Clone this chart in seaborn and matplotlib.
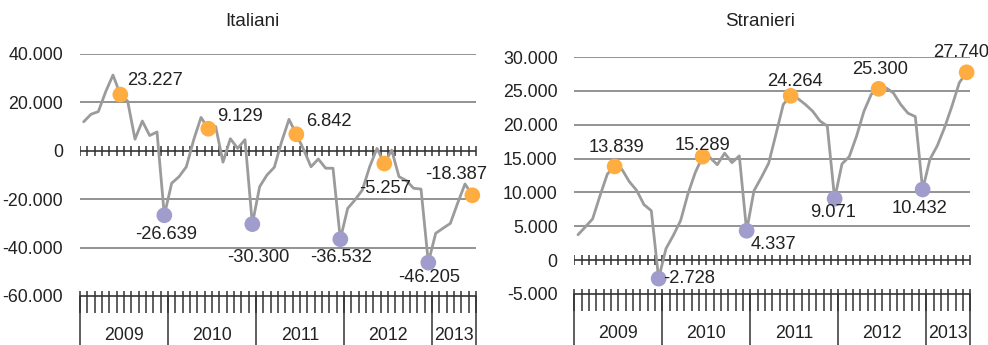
import numpy as np
import pandas as pd
import seaborn as sns
import matplotlib
matplotlib.use('Agg')
import matplotlib.pyplot as plt
from matplotlib import font_manager

# monthly series, jan 2009 - jun 2013
years = ['2009', '2010', '2011', '2012', '2013']
months_per_year = [12, 12, 12, 12, 6]

italiani = [12000, 15100, 16200, 24400, 31300, 23227, 20500, 4800, 12300, 6300, 7800, -26639,
            -13400, -10700, -6600, 4500, 13800, 9129, 10000, -4700, 5000, 1000, 4600, -30300,
            -14800, -10000, -6800, 3800, 13000, 6842, 500, -6600, -3400, -7200, -7200, -36532,
            -23800, -20300, -16200, -6600, 1000, -5257, 300, -10700, -12300, -15500, -15800, -46205,
            -34100, -32000, -30000, -21600, -13700, -18387]

stranieri = [3750, 4900, 6100, 9500, 12700, 13839, 13400, 11600, 10300, 8200, 7300, -2728,
             1700, 3650, 5850, 9800, 12950, 15289, 15150, 14100, 15800, 14400, 15400, 4337,
             10250, 12200, 14300, 18600, 23000, 24264, 23850, 23000, 22000, 20550, 19800, 9071,
             14200, 15300, 18350, 22000, 24500, 25300, 25450, 24700, 23000, 21700, 21200, 10432,
             14900, 16900, 19600, 22750, 26200, 27740]

# june points (orange) and december points (purple)
high_idx = [5, 17, 29, 41, 53]
low_idx = [11, 23, 35, 47]

ita_ticks = [-60000, -40000, -20000, 0, 20000, 40000]
str_ticks = [-5000, 0, 5000, 10000, 15000, 20000, 25000, 30000]

# label offsets in pixels (dx, dy), same order as high_idx / low_idx
ita_high_off = [(35, 14), (32, 12), (33, 13), (1, -25), (-16, 21)]
ita_low_off = [(2, -19), (6, -33), (1, -18), (1, -15)]
str_high_off = [(2, 19), (0, 11), (4, 14), (1, 19), (-6, 20)]
str_low_off = [(30, 0), (27, -14), (-2, -14), (-3, -19)]

sns.set_style('white')
names = {f.name for f in font_manager.fontManager.ttflist}
base_font = 'Liberation Sans' if 'Liberation Sans' in names else 'DejaVu Sans'
narrow_font = 'Liberation Sans Narrow' if 'Liberation Sans Narrow' in names else base_font
plt.rcParams['font.family'] = [base_font, 'DejaVu Sans']
label_size = 14.9 if narrow_font != base_font else 13.2

orange = '#FFAD40'
purple = '#A09DCC'
line_col = '#9B9B9B'
grid_col = '#808080'
axis_col = '#333333'
text_col = '#222222'


def fmt(v):
    return f'{v:,}'.replace(',', '.')


fig = plt.figure(figsize=(9.88, 3.45), dpi=100)
W, H = 988, 345


def panel(left_px, top_px, bottom_px, vals, yticks, high_off, low_off, title, title_x):
    ax = fig.add_axes([left_px / W, (H - bottom_px) / H, 396 / W, (bottom_px - top_px) / H])
    n = len(vals)
    x = np.arange(n)
    df = pd.DataFrame({'mese': x, 'saldo': vals})
    ax.set_xlim(-0.5, n - 0.5)
    ax.set_ylim(yticks[0], yticks[-1])
    for s in ax.spines.values():
        s.set_visible(False)
    ax.set_xticks([])
    ax.set_yticks(yticks)
    ax.set_yticklabels([fmt(t) for t in yticks])
    ax.tick_params(axis='y', length=0, pad=12, labelsize=12.8, labelcolor=text_col)
    for t in yticks[1:]:
        if t != 0:
            ax.axhline(t, color=grid_col, lw=1.2, zorder=1)

    hpx = ax.bbox.height
    trans = ax.get_xaxis_transform()
    bounds = np.arange(n + 1) - 0.5
    # axis at zero with cross ticks
    ax.axhline(0, color=axis_col, lw=1.2, zorder=2)
    ax.plot(bounds, np.zeros(len(bounds)), '|', color=axis_col, markersize=7.5, mew=1.1, zorder=2)
    # bottom category axis
    ax.plot([-0.5, n - 0.5], [0, 0], transform=trans, color=axis_col, lw=1.2, clip_on=False)
    ax.vlines(bounds, -17 / hpx, 5 / hpx, transform=trans, color=axis_col, lw=1.1, clip_on=False)
    ybounds = np.concatenate([[0], np.cumsum(months_per_year)]) - 0.5
    ax.vlines(ybounds, -52 / hpx, 0, transform=trans, color=axis_col, lw=1.1, clip_on=False)
    for k, yr in enumerate(years):
        ax.text((ybounds[k] + ybounds[k + 1]) / 2, -40 / hpx, yr, transform=trans,
                ha='center', va='center', fontsize=12.8, color=text_col)

    sns.lineplot(data=df, x='mese', y='saldo', ax=ax, color=line_col, lw=2.0, zorder=3)
    hi = df.iloc[high_idx]
    lo = df.iloc[low_idx]
    sns.scatterplot(data=hi, x='mese', y='saldo', ax=ax, color=orange, s=128,
                    edgecolor='none', zorder=4, clip_on=False)
    sns.scatterplot(data=lo, x='mese', y='saldo', ax=ax, color=purple, s=128,
                    edgecolor='none', zorder=4, clip_on=False)
    ax.set_xlabel('')
    ax.set_ylabel('')
    for idx, off in list(zip(high_idx, high_off)) + list(zip(low_idx, low_off)):
        ax.annotate(fmt(vals[idx]), (idx, vals[idx]), xytext=off, textcoords='offset pixels',
                    ha='center', va='center', fontsize=label_size, color=text_col,
                    family=[narrow_font, 'DejaVu Sans'], annotation_clip=False, zorder=5)
    fig.text(title_x / W, 1 - 22 / H, title, ha='center', va='center', fontsize=13.5, color=text_col)
    return ax


panel(80, 54, 296, italiani, ita_ticks, ita_high_off, ita_low_off, 'Italiani', 252)
panel(574.3, 57, 294, stranieri, str_ticks, str_high_off, str_low_off, 'Stranieri', 760)

fig.savefig('out.png', dpi=100)
